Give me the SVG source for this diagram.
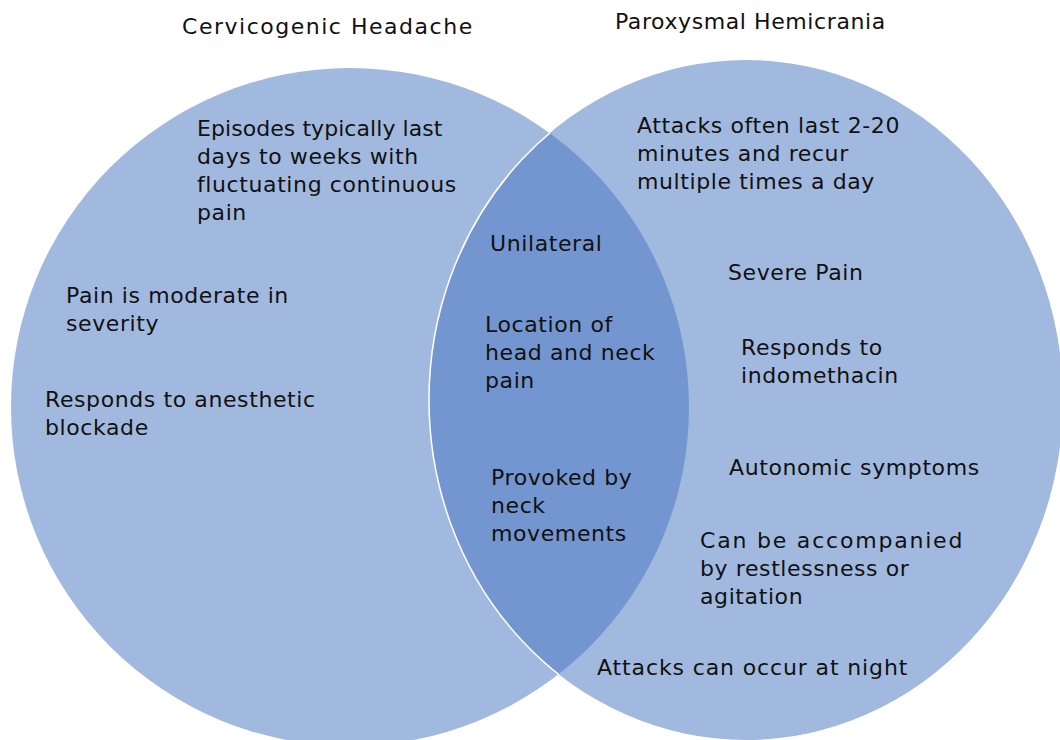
<svg xmlns="http://www.w3.org/2000/svg" width="1060" height="740" viewBox="0 0 1060 740">
<style>
text{font-family:"DejaVu Sans","Liberation Sans",sans-serif;font-size:22px;fill:#111;letter-spacing:0.6px}
.title{font-size:22px;letter-spacing:0.8px}
.set{fill:#A2B9DF}
</style>
<defs>
<clipPath id="clipLeft"><circle cx="350" cy="407" r="339"/></clipPath>
</defs>
<rect width="1060" height="740" fill="#fff"/>
<g id="set-left"><circle class="set" cx="350" cy="407" r="339"/></g>
<g id="set-right"><ellipse class="set" cx="746" cy="400" rx="317" ry="340"/></g>
<g id="overlap"><ellipse cx="746" cy="400" rx="317" ry="340" fill="#7396D0" clip-path="url(#clipLeft)"/></g>
<g id="connectors"><ellipse cx="746" cy="400" rx="317" ry="340" fill="none" stroke="#fff" stroke-width="1.5" clip-path="url(#clipLeft)"/></g>
<g id="title-left"><text class="title" x="182" y="34" textLength="291" lengthAdjust="spacing">Cervicogenic Headache</text></g>
<g id="title-right"><text class="title" x="615" y="29" textLength="271" lengthAdjust="spacing">Paroxysmal Hemicrania</text></g>
<g id="left-items">
<text x="197" y="136" textLength="246" lengthAdjust="spacing">Episodes typically last</text>
<text x="197" y="164">days to weeks with</text>
<text x="197" y="192">fluctuating continuous</text>
<text x="197" y="220">pain</text>
<text x="66" y="303">Pain is moderate in</text>
<text x="66" y="331">severity</text>
<text x="45" y="407">Responds to anesthetic</text>
<text x="45" y="435">blockade</text>
</g>
<g id="overlap-items">
<text x="490" y="251">Unilateral</text>
<text x="485" y="332">Location of</text>
<text x="485" y="360">head and neck</text>
<text x="485" y="388">pain</text>
<text x="491" y="485">Provoked by</text>
<text x="491" y="513">neck</text>
<text x="491" y="541">movements</text>
</g>
<g id="right-items">
<text x="637" y="133">Attacks often last 2-20</text>
<text x="637" y="161">minutes and recur</text>
<text x="637" y="189">multiple times a day</text>
<text x="728" y="280">Severe Pain</text>
<text x="741" y="355">Responds to</text>
<text x="741" y="383">indomethacin</text>
<text x="729" y="475">Autonomic symptoms</text>
<text x="700" y="548" textLength="263" lengthAdjust="spacing">Can be accompanied</text>
<text x="700" y="576">by restlessness or</text>
<text x="700" y="604">agitation</text>
<text x="597" y="675" textLength="311" lengthAdjust="spacing">Attacks can occur at night</text>
</g>
</svg>
